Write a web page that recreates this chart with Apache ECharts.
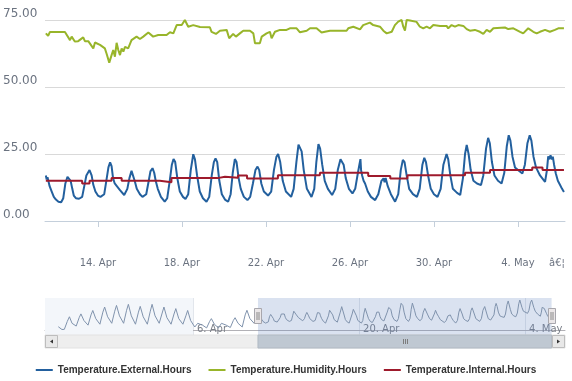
<!DOCTYPE html>
<html><head><meta charset="utf-8">
<script src="https://cdn.jsdelivr.net/npm/echarts@6/dist/echarts.min.js"></script>
<style>html,body{margin:0;padding:0;background:#fff}#c{width:572px;height:381px}</style>
</head><body><div id="c"></div>
<script>
// Time unit: day of April (1.0 = 1 Apr 00:00; 31.0 = 1 May 00:00; <=0 = March)
const seriesNames = ['Temperature.External.Hours', 'Temperature.Humidity.Hours', 'Temperature.Internal.Hours'];

const extTimes = [11.52,11.56,11.60,11.70,11.80,11.90,12.00,12.12,12.25,12.35,12.45,12.55,12.60,12.70,12.78,12.85,12.95,13.10,13.25,13.35,13.45,13.60,13.70,13.78,13.88,14.00,14.12,14.30,14.40,14.50,14.58,14.65,14.72,14.80,14.90,15.05,15.25,15.40,15.50,15.60,15.68,15.75,15.85,16.00,16.12,16.30,16.42,16.50,16.55,16.60,16.68,16.75,16.85,17.00,17.18,17.30,17.42,17.52,17.60,17.68,17.78,17.90,18.05,18.17,18.30,18.42,18.54,18.62,18.72,18.85,19.00,19.17,19.30,19.42,19.52,19.60,19.68,19.78,19.90,20.05,20.20,20.32,20.42,20.52,20.60,20.70,20.80,20.95,21.12,21.25,21.38,21.50,21.60,21.68,21.78,21.90,22.10,22.25,22.38,22.50,22.58,22.68,22.80,22.95,23.20,23.32,23.45,23.55,23.60,23.70,23.80,23.95,24.17,24.30,24.40,24.50,24.58,24.68,24.80,24.95,25.15,25.30,25.42,25.55,25.60,25.70,25.80,25.95,26.12,26.25,26.38,26.45,26.50,26.53,26.58,26.65,26.72,26.85,27.00,27.20,27.35,27.50,27.60,27.65,27.70,27.80,27.95,28.15,28.30,28.42,28.52,28.60,28.70,28.82,29.00,29.19,29.32,29.45,29.54,29.62,29.72,29.85,30.00,30.17,30.32,30.45,30.60,30.68,30.78,30.90,31.10,31.25,31.38,31.48,31.56,31.65,31.75,31.88,32.05,32.24,32.35,32.48,32.58,32.66,32.76,32.88,33.05,33.22,33.35,33.47,33.56,33.64,33.74,33.86,34.00,34.21,34.33,34.45,34.56,34.64,34.74,34.86,35.05,35.29,35.38,35.44,35.50,35.55,35.62,35.66,35.72,35.80,35.90,36.00,36.10,36.19];
const extValues = [17.0,15.5,16.3,13.0,11.0,9.0,8.0,7.2,7.0,8.5,14.0,16.5,16.9,15.0,12.0,9.5,8.5,8.3,9.0,13.0,17.0,19.0,17.0,13.5,11.0,9.5,9.0,10.0,15.0,20.0,21.9,20.5,16.0,14.0,13.0,11.5,9.7,12.0,16.0,18.7,18.0,15.0,12.0,10.0,9.0,10.0,15.0,18.5,17.8,19.7,18.0,15.0,12.0,9.0,7.2,8.5,15.0,21.0,23.1,22.0,16.0,11.0,9.0,8.2,10.0,19.0,24.9,23.0,17.0,11.0,8.5,7.2,9.0,17.0,22.0,23.4,22.0,15.0,10.0,8.0,7.2,10.0,18.0,23.1,22.0,16.0,12.0,9.0,7.8,9.0,14.0,19.0,20.3,19.0,14.0,11.0,9.5,11.0,19.0,24.0,25.0,22.0,15.0,11.0,9.0,12.0,22.0,28.5,29.1,26.0,19.0,12.0,9.0,12.0,22.0,28.7,27.0,21.0,15.0,12.0,9.7,12.0,19.0,23.0,23.6,21.0,16.0,12.0,10.3,12.0,18.0,21.0,23.1,19.0,17.0,15.0,14.0,11.0,9.0,7.8,10.0,15.0,15.9,14.5,16.0,13.0,10.0,7.2,10.0,19.0,22.8,22.0,17.0,12.0,10.0,9.0,12.0,21.0,23.6,22.0,17.0,12.0,10.0,9.0,12.0,21.0,25.0,23.0,17.0,12.0,10.5,9.7,16.0,25.0,28.4,25.0,19.0,15.0,14.0,13.4,17.0,27.0,31.0,29.0,22.0,17.0,15.0,14.0,18.0,28.0,32.0,30.0,24.0,20.0,19.0,17.7,21.0,29.0,32.0,30.0,24.0,20.0,17.0,14.6,19.0,24.1,23.0,24.5,23.0,24.0,21.0,17.8,15.0,13.5,12.0,10.8];

const extEarlyTimes = [-5.36,-5.05,-4.85,-4.60,-4.42,-4.20,-3.85,-3.60,-3.45,-3.20,-2.85,-2.60,-2.45,-2.20,-1.85,-1.60,-1.45,-1.20,-0.85,-0.60,-0.45,-0.20,0.15,0.40,0.55,0.80,1.15,1.40,1.55,1.80,2.15,2.40,2.55,2.80,3.15,3.40,3.55,3.80,4.15,4.40,4.55,4.80,5.15,5.40,5.55,5.80,6.15,6.40,6.55,6.80,7.15,7.40,7.55,7.80,8.15,8.40,8.55,8.80,9.15,9.40,9.55,9.80,10.15,10.40,10.55,10.80,11.15,11.35];
const extEarlyValues = [3.3,0.3,0.5,9,14,7,4,13,17.1,10,5,16,20.8,12,6,19,24.5,14,7,20,26.2,15,7,21,27.4,15,6,19,25.2,14,6,20,27.4,15,7,18,24.5,13,6,17,22.8,12,6,15,20.8,10,3,7,9,5,2,9,12,6,2,7,9,5,2.5,10,13,7,3,16,21,12,7,12];

const humTimes = [11.52,11.63,11.71,12.43,12.51,12.67,12.75,12.90,13.06,13.30,13.38,13.54,13.62,13.78,13.86,14.10,14.33,14.41,14.54,14.65,14.73,14.81,14.89,14.97,15.05,15.13,15.21,15.29,15.44,15.60,15.84,16.00,16.16,16.40,16.63,16.87,17.27,17.43,17.59,17.75,17.99,18.14,18.30,18.54,18.86,19.33,19.41,19.49,19.62,19.81,20.13,20.25,20.44,20.57,20.76,20.92,21.24,21.40,21.48,21.71,21.80,22.03,22.19,22.27,22.43,22.67,22.98,23.14,23.46,23.54,23.62,23.94,24.10,24.41,24.65,24.81,25.05,25.84,25.92,26.16,26.48,26.63,26.95,27.11,27.43,27.59,27.75,27.99,28.14,28.30,28.46,28.54,28.62,28.70,28.86,29.17,29.33,29.49,29.65,29.81,29.97,30.29,30.60,30.68,30.84,31.00,31.16,31.40,31.56,31.71,31.95,32.19,32.35,32.51,32.67,32.83,33.38,33.54,33.78,34.10,34.25,34.49,34.73,34.89,35.05,35.29,35.52,35.76,35.92,36.19];
const humValues = [70.0,69.1,70.5,70.5,70.8,67.5,68.8,67.0,67.1,68.5,67.1,67.1,66.8,64.4,66.6,65.7,64.4,62.5,59.1,61.9,63.8,61.3,66.5,63.8,61.9,64.4,63.2,65.0,64.4,67.5,68.8,67.9,68.8,70.3,68.8,69.4,69.4,70.4,70.0,73.1,73.1,75.0,72.5,73.1,72.4,72.3,70.6,71.3,69.8,71.0,71.3,68.2,69.8,68.8,70.0,71.0,71.0,70.0,66.3,66.3,68.8,70.0,70.6,68.2,70.6,71.3,71.3,71.9,71.9,72.5,70.4,71.0,71.9,71.9,70.3,70.6,71.0,71.0,71.9,72.5,71.5,73.1,74.0,73.1,72.5,71.0,70.0,70.6,73.1,74.4,75.0,72.5,71.0,75.0,74.8,74.3,72.5,71.9,72.5,71.9,73.1,72.8,72.8,71.9,73.1,72.5,73.1,72.8,71.6,71.0,71.3,70.6,69.8,71.3,70.6,71.9,72.2,71.6,71.9,70.6,70.0,71.9,70.6,70.0,70.6,71.3,70.6,71.3,71.9,71.9];

const intTimes = [11.52,13.25,13.60,14.65,15.13,16.95,17.50,19.70,20.05,20.67,21.10,22.57,24.57,26.87,27.92,28.74,31.48,32.67,34.68,35.17,36.19];
const intValues = [15.0,14.0,15.0,16.0,15.0,14.5,16.0,16.5,16.1,17.0,15.9,17.1,18.0,16.8,15.9,17.1,18.0,19.0,20.0,19.0,19.0];

const yTicks = [0, 25, 50, 75];
const xTicks = [14, 18, 22, 26, 30, 34];
const xOverflowLabelAt = 35.86;
const xOverflowText = 'â€¦';
const navTicks = [6, 20, 34];
const navBands = [[-6.48, 6]];
const viewRange = [11.48, 36.24];
const navRange = [-6.48, 37.37];
const yRange = [-10.075, 78.73];
const navYRange = [-5.6, 34.2];

const colors = ['#23609e', '#98b52a', '#9e1a2c'];

function pairs(t, v) { return t.map((x, i) => [x, v[i]]); }
function dayLabel(d) {
  if (d > 30) return Math.round(d - 30) + '. May';
  if (d <= 0) return Math.round(d + 31) + '. Mar';
  return Math.round(d) + '. Apr';
}

const chart = echarts.init(document.getElementById('c'), null, {renderer: 'canvas'});
const labelFont = 'DejaVu Sans';

const option = {
  animation: false,
  backgroundColor: '#fff',
  grid: [
    {left: 45, right: 7, top: 10, bottom: 133, outerBoundsMode: 'none'},
    {left: 45, right: 7, top: 298, height: 37, outerBoundsMode: 'none'}
  ],
  xAxis: [
    {
      gridIndex: 0, type: 'value', min: viewRange[0], max: viewRange[1],
      axisLine: {show: true, lineStyle: {color: '#c4cfdb', width: 1}},
      axisTick: {show: true, length: 6, lineStyle: {color: '#c4cfdb'}, customValues: xTicks},
      axisLabel: {
        customValues: xTicks.concat([xOverflowLabelAt]), margin: 10,
        color: '#6b7380', fontFamily: labelFont, fontSize: 10,
        formatter: v => (Math.abs(v - xOverflowLabelAt) < 1e-6 ? xOverflowText : dayLabel(v))
      },
      splitLine: {show: false}
    },
    {
      gridIndex: 1, type: 'value', min: navRange[0], max: navRange[1], position: 'top',
      axisLine: {show: true, lineStyle: {color: '#b2b1b6', width: 1}},
      axisTick: {show: false}, axisLabel: {show: false}, splitLine: {show: false}
    },
    {
      gridIndex: 1, type: 'value', min: navRange[0], max: navRange[1], position: 'bottom',
      axisLine: {show: false},
      axisTick: {show: false, customValues: navTicks},
      axisLabel: {
        show: true, inside: true, customValues: navTicks, margin: 1, align: 'left',
        padding: [0, 0, 0, 4], color: '#7a7f88', fontFamily: labelFont, fontSize: 10,
        formatter: v => dayLabel(v)
      },
      splitLine: {show: true, lineStyle: {color: '#e2e6ec', width: 1}}
    }
  ],
  yAxis: [
    {
      gridIndex: 0, type: 'value', min: yRange[0], max: yRange[1],
      axisLine: {show: false},
      axisTick: {show: false, customValues: yTicks},
      axisLabel: {
        customValues: yTicks, align: 'left', margin: 42, verticalAlign: 'bottom',
        color: '#6b7380', fontFamily: labelFont, fontSize: 12,
        formatter: v => v.toFixed(2)
      },
      splitLine: {show: true, lineStyle: {color: '#d9d9d9', width: 1}}
    },
    {gridIndex: 1, type: 'value', min: navYRange[0], max: navYRange[1], show: false}
  ],
  legend: {
    data: seriesNames, left: 'center', top: 360, icon: 'rect', itemWidth: 17, itemHeight: 2,
    itemGap: 17, textStyle: {fontFamily: 'Liberation Sans', fontWeight: 'bold', fontSize: 10, color: '#333'}
  },
  series: [
    {name: seriesNames[0], type: 'line', xAxisIndex: 0, yAxisIndex: 0, data: pairs(extTimes, extValues),
     showSymbol: false, lineStyle: {color: colors[0], width: 2}, itemStyle: {color: colors[0]}, z: 3},
    {name: seriesNames[1], type: 'line', xAxisIndex: 0, yAxisIndex: 0, data: pairs(humTimes, humValues),
     showSymbol: false, lineStyle: {color: colors[1], width: 2}, itemStyle: {color: colors[1]}, z: 2},
    {name: seriesNames[2], type: 'line', step: 'end', xAxisIndex: 0, yAxisIndex: 0, data: pairs(intTimes, intValues),
     showSymbol: false, lineStyle: {color: colors[2], width: 2}, itemStyle: {color: colors[2]}, z: 4},
    {name: 'navigator', type: 'line', xAxisIndex: 1, yAxisIndex: 1,
     data: pairs(extEarlyTimes, extEarlyValues).concat(pairs(extTimes, extValues)),
     showSymbol: false, lineStyle: {color: '#8093ad', width: 1}, itemStyle: {color: '#8093ad'}, silent: true,
     markArea: {
       silent: true,
       data: navBands.map(b => [{xAxis: b[0], itemStyle: {color: '#f3f6fa'}}, {xAxis: b[1]}])
         .concat([[{xAxis: viewRange[0], itemStyle: {color: 'rgba(102,133,194,0.24)'}}, {xAxis: viewRange[1]}]])
     }}
  ]
};
chart.setOption(option);

// Navigator handles and scrollbar, positioned from the navigator axis scale
const p0 = chart.convertToPixel({xAxisIndex: 1}, viewRange[0]);
const p1 = chart.convertToPixel({xAxisIndex: 1}, viewRange[1]);
const navL = chart.convertToPixel({xAxisIndex: 1}, navRange[0]);
const navR = chart.convertToPixel({xAxisIndex: 1}, navRange[1]);
const sbY = 335, sbH = 13, btn = 13;
const g = [];
g.push({type: 'rect', shape: {x: navL, y: sbY, width: navR - navL, height: sbH}, style: {fill: '#eeeeee', stroke: '#e2e2e2'}, z: 10});
g.push({type: 'rect', shape: {x: p0, y: sbY, width: p1 - p0, height: sbH}, style: {fill: '#bfc8d2', stroke: '#b0b9c3'}, z: 11});
const mid = Math.round((p0 + p1) / 2) + 0.5;
[-2, 0, 2].forEach(o => g.push({type: 'line', shape: {x1: mid + o, y1: sbY + 4, x2: mid + o, y2: sbY + 9}, style: {stroke: '#7c7c7c', lineWidth: 1}, z: 12}));
// buttons
g.push({type: 'rect', shape: {x: navL + 0.5, y: sbY + 0.5, width: btn - 1, height: sbH - 1}, style: {fill: '#e8e8e8', stroke: '#bdbdbd'}, z: 12});
g.push({type: 'rect', shape: {x: navR - btn + 0.5, y: sbY + 0.5, width: btn - 1, height: sbH - 1}, style: {fill: '#e8e8e8', stroke: '#bdbdbd'}, z: 12});
g.push({type: 'polygon', shape: {points: [[navL + 5, sbY + 6.5], [navL + 8, sbY + 4.5], [navL + 8, sbY + 8.5]]}, style: {fill: '#333'}, z: 13});
g.push({type: 'polygon', shape: {points: [[navR - 5, sbY + 6.5], [navR - 8, sbY + 4.5], [navR - 8, sbY + 8.5]]}, style: {fill: '#333'}, z: 13});
// handles
[p0, p1].forEach(px => {
  const x = Math.round(px) - 3.5;
  g.push({type: 'rect', shape: {x: x, y: 308.5, width: 7, height: 15}, style: {fill: '#ebe7e8', stroke: '#a8a7ad'}, z: 14});
  g.push({type: 'line', shape: {x1: x + 2.5, y1: 312, x2: x + 2.5, y2: 320}, style: {stroke: '#8a8a8a'}, z: 15});
  g.push({type: 'line', shape: {x1: x + 4.5, y1: 312, x2: x + 4.5, y2: 320}, style: {stroke: '#8a8a8a'}, z: 15});
});
chart.setOption({graphic: g});
</script>
</body></html>
